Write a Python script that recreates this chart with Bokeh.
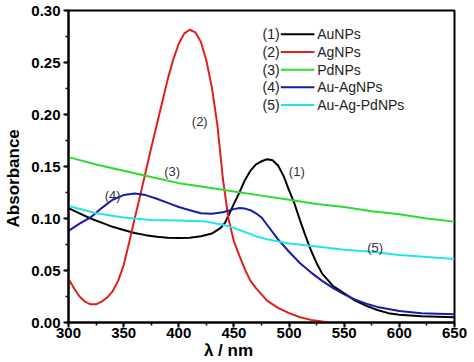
from bokeh.plotting import figure
from bokeh.models import Range1d, SingleIntervalTicker, NumeralTickFormatter
from bokeh.core.properties import value
from bokeh.embed import file_html
from bokeh.resources import INLINE

# ---------------- data ----------------
wl_au = [300, 310, 320, 330, 340, 350, 360, 370, 380, 390, 400, 410, 420, 430, 438, 442, 446, 450,
         455, 460, 465, 470, 475, 480, 485, 490, 495, 500, 505, 510, 515, 520, 525, 530, 540, 550,
         560, 570, 580, 590, 600, 620, 650]
ab_au = [0.110, 0.105, 0.100, 0.096, 0.092, 0.089, 0.086, 0.084, 0.0825, 0.0815, 0.0812, 0.0815,
         0.083, 0.0855, 0.091, 0.096, 0.105, 0.114, 0.125, 0.137, 0.146, 0.152, 0.155, 0.157, 0.156,
         0.151, 0.141, 0.127, 0.114, 0.098, 0.083, 0.069, 0.057, 0.047, 0.035, 0.028, 0.021, 0.016,
         0.012, 0.009, 0.0075, 0.006, 0.005]

wl_ag = [300, 305, 310, 315, 320, 325, 330, 335, 340, 345, 350, 355, 360, 365, 370, 375, 380, 385,
         390, 395, 400, 405, 410, 415, 420, 425, 430, 435, 440, 445, 450, 455, 460, 465, 470, 480,
         490, 500, 510, 520, 530, 537]
ab_ag = [0.042, 0.033, 0.025, 0.020, 0.0175, 0.0175, 0.020, 0.024, 0.030, 0.040, 0.055, 0.077,
         0.100, 0.122, 0.145, 0.168, 0.190, 0.212, 0.234, 0.253, 0.268, 0.278, 0.2815, 0.279, 0.270,
         0.252, 0.226, 0.190, 0.138, 0.100, 0.078, 0.064, 0.051, 0.040, 0.033, 0.021, 0.014, 0.009,
         0.005, 0.0025, 0.001, 0.0]

wl_pd = [300, 325, 350, 375, 400, 425, 450, 475, 500, 525, 550, 575, 600, 625, 650]
ab_pd = [0.159, 0.152, 0.146, 0.140, 0.134, 0.130, 0.126, 0.122, 0.118, 0.114, 0.111, 0.107,
         0.104, 0.100, 0.097]

wl_auag = [300, 310, 320, 330, 340, 350, 360, 370, 380, 390, 400, 410, 420, 430, 440, 450, 455,
           460, 465, 470, 475, 480, 490, 500, 510, 520, 530, 540, 550, 560, 570, 580, 600, 620, 650]
ab_auag = [0.088, 0.095, 0.101, 0.110, 0.118, 0.1225, 0.124, 0.1225, 0.119, 0.115, 0.111, 0.108,
           0.105, 0.1045, 0.106, 0.109, 0.110, 0.1095, 0.108, 0.105, 0.101, 0.094, 0.080, 0.068,
           0.057, 0.048, 0.040, 0.033, 0.027, 0.022, 0.018, 0.015, 0.011, 0.009, 0.008]

wl_auagpd = [300, 325, 350, 375, 400, 425, 440, 450, 460, 470, 480, 490, 500, 525, 550, 575, 600,
             625, 650]
ab_auagpd = [0.112, 0.105, 0.101, 0.0985, 0.098, 0.097, 0.094, 0.091, 0.087, 0.083, 0.080, 0.078,
             0.076, 0.073, 0.070, 0.068, 0.065, 0.063, 0.061]

series_names = ["AuNPs", "AgNPs", "PdNPs", "Au-AgNPs", "Au-Ag-PdNPs"]
series_tags = ["(1)", "(2)", "(3)", "(4)", "(5)"]
series_colors = ["#000000", "#e01e1e", "#2edc2e", "#1a1aaa", "#22e4ea"]

# curve tag annotations (position in data space)
tag_x = [507, 419, 394, 340, 578]
tag_y = [0.145, 0.193, 0.145, 0.122, 0.0717]

# ---------------- figure ----------------
FONT = "Liberation Sans"
p = figure(width=474, height=362, x_range=Range1d(300, 650), y_range=Range1d(0, 0.3000001),
           output_backend="svg", toolbar_location=None,
           min_border_left=68, min_border_right=20, min_border_top=10, min_border_bottom=38)
p.background_fill_color = "white"
p.border_fill_color = "white"
p.xgrid.visible = False
p.ygrid.visible = False
p.outline_line_color = "black"
p.outline_line_width = 2
p.outline_line_alpha = 1

p.xaxis.ticker = SingleIntervalTicker(interval=50, num_minor_ticks=2)
p.yaxis.ticker = SingleIntervalTicker(interval=0.05, num_minor_ticks=2)
p.yaxis.formatter = NumeralTickFormatter(format="0.00")
p.xaxis.formatter = NumeralTickFormatter(format="0")

for ax in (p.xaxis, p.yaxis):
    ax.axis_line_width = 2
    ax.axis_line_color = "black"
    ax.major_tick_line_width = 2
    ax.minor_tick_line_width = 1.5
    ax.major_tick_in = 0
    ax.major_tick_out = 5
    ax.minor_tick_in = 0
    ax.minor_tick_out = 3
    ax.major_label_text_font = FONT
    ax.major_label_text_font_style = "bold"
    ax.major_label_text_font_size = "15px"
    ax.major_label_text_color = "black"
    ax.axis_label_text_font = FONT
    ax.axis_label_text_font_style = "bold"
    ax.axis_label_text_font_size = "17px"
    ax.axis_label_text_color = "black"

p.xaxis.major_label_standoff = 0
p.xaxis.axis_label_standoff = 0
p.yaxis.major_label_standoff = 3
p.yaxis.axis_label_standoff = 5

p.xaxis.axis_label = "λ / nm" + "\u00a0" * 14
p.yaxis.axis_label = "Absorbance" + "\u00a0" * 5

wls = [wl_au, wl_ag, wl_pd, wl_auag, wl_auagpd]
abs_ = [ab_au, ab_ag, ab_pd, ab_auag, ab_auagpd]
for wl, ab, c in zip(wls, abs_, series_colors):
    p.line(wl, ab, line_color=c, line_width=2)

# curve tags
p.text(tag_x, tag_y, text=series_tags, text_font=value(FONT), text_font_size="13px",
       text_align="center", text_baseline="middle", text_color="#333333")

# legend (manual, "(n)——Name")
LEG_TOP = 0.2771
LEG_STEP = 0.0170
LEG_NUM_X = 491.5
LEG_L0 = 492.5
LEG_L1 = 523
LEG_TXT_X = 525.5
leg_y = [LEG_TOP - i * LEG_STEP for i in range(len(series_names))]
p.segment(x0=[LEG_L0] * 5, y0=leg_y, x1=[LEG_L1] * 5, y1=leg_y,
          line_color=series_colors, line_width=2)
p.text([LEG_NUM_X] * 5, leg_y, text=series_tags, text_font=value(FONT), text_font_size="14px",
       text_align="right", text_baseline="middle", text_color="#222222")
p.text([LEG_TXT_X] * 5, leg_y, text=series_names, text_font=value(FONT), text_font_size="14px",
       text_align="left", text_baseline="middle", text_color="#222222")

open("out.html", "w").write(file_html(p, INLINE))
